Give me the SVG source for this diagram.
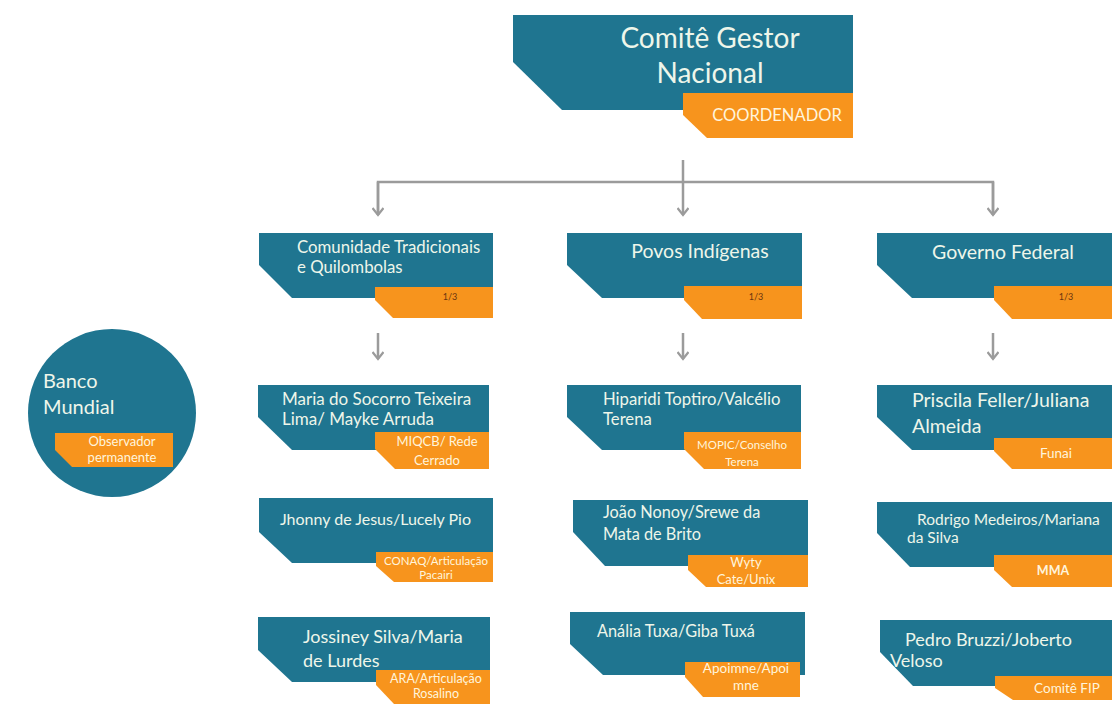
<svg xmlns="http://www.w3.org/2000/svg" width="1115" height="704" viewBox="0 0 1115 704">
<style>
.t{fill:#1f7590}
.o{fill:#f7941d}
.h{font-family:Lato,"Open Sans","Liberation Sans",sans-serif;fill:#eef6ea}
.s{font-family:Lato,"Open Sans","Liberation Sans",sans-serif;fill:#fff4dc;text-anchor:middle}
.f{font-family:Lato,"Open Sans","Liberation Sans",sans-serif;fill:#6b3510;font-size:9px}
.c{fill:none;stroke:#9b9b9b;stroke-width:2.5}
</style>
<defs>
<marker id="a" markerWidth="12" markerHeight="10" refX="6" refY="8" orientation="auto" markerUnits="userSpaceOnUse" viewBox="0 0 12 10">
<path d="M0.5,1 L6,8 L11.5,1" fill="none" stroke="#9b9b9b" stroke-width="2.2"/>
</marker>
</defs>
<rect width="1115" height="704" fill="#fff"/>
<g id="connectors">
<path class="c" d="M683,160 V215" marker-end="url(#a)"/>
<path class="c" d="M378,215 V182 H993 V215" />
<path class="c" d="M378,182 V215" marker-end="url(#a)"/>
<path class="c" d="M993,182 V215" marker-end="url(#a)"/>
<path class="c" d="M378,333 V359" marker-end="url(#a)"/>
<path class="c" d="M683,333 V359" marker-end="url(#a)"/>
<path class="c" d="M993,333 V359" marker-end="url(#a)"/>
</g>
<g id="comite">
<path class="t" d="M513,15 H853 V110 H562 L513,62 Z"/>
<path class="o" d="M683,93 H853 V138 H707 L683,115 Z"/>
<text class="h" x="710" y="48" font-size="28" text-anchor="middle">Comitê Gestor</text>
<text class="h" x="710" y="83" font-size="28" text-anchor="middle">Nacional</text>
<text class="s" x="777" y="121" font-size="16.5">COORDENADOR</text>
</g>
<g id="comunidade">
<path class="t" d="M259,233 H493 V298 H292 L259,265 Z"/>
<path class="o" d="M375,287 H493 V318 H393 L375,300 Z"/>
<text class="h" x="297" y="253" font-size="16.8">Comunidade Tradicionais</text>
<text class="h" x="297" y="273" font-size="16.8">e Quilombolas</text>
<text class="f" x="450" y="300" text-anchor="middle">1/3</text>
</g>
<g id="povos">
<path class="t" d="M567,233 H802 V298 H602 L567,265 Z"/>
<path class="o" d="M684,286 H802 V319 H702 L684,300 Z"/>
<text class="h" x="700" y="258" font-size="19.5" text-anchor="middle">Povos Indígenas</text>
<text class="f" x="756" y="300" text-anchor="middle">1/3</text>
</g>
<g id="governo">
<path class="t" d="M877,233 H1112 V298 H912 L877,265 Z"/>
<path class="o" d="M994,286 H1112 V319 H1012 L994,300 Z"/>
<text class="h" x="1003" y="259" font-size="19.5" text-anchor="middle">Governo Federal</text>
<text class="f" x="1066" y="300" text-anchor="middle">1/3</text>
</g>
<g id="banco">
<circle class="t" cx="112" cy="413" r="84"/>
<path class="o" d="M55,433 H173 V467 H72 L55,450 Z"/>
<text class="h" x="43" y="388" font-size="20">Banco</text>
<text class="h" x="43" y="414" font-size="20">Mundial</text>
<text class="s" x="122" y="446" font-size="13">Observador</text>
<text class="s" x="122" y="462" font-size="13">permanente</text>
</g>
<g id="maria">
<path class="t" d="M258,385 H489 V450 H292 L258,417 Z"/>
<path class="o" d="M375,432 H489 V469 H395 L375,449 Z"/>
<text class="h" x="282" y="405" font-size="17">Maria do Socorro Teixeira</text>
<text class="h" x="282" y="425" font-size="17">Lima/ Mayke Arruda</text>
<text class="s" x="437" y="446" font-size="13">MIQCB/ Rede</text>
<text class="s" x="437" y="465" font-size="13">Cerrado</text>
</g>
<g id="hiparidi">
<path class="t" d="M567,385 H801 V450 H602 L567,417 Z"/>
<path class="o" d="M684,432 H801 V469 H704 L684,449 Z"/>
<text class="h" x="603" y="405" font-size="16.7">Hiparidi Toptiro/Valcélio</text>
<text class="h" x="603" y="425" font-size="16.7">Terena</text>
<text class="s" x="742" y="449" font-size="11.5">MOPIC/Conselho</text>
<text class="s" x="742" y="466" font-size="11.5">Terena</text>
</g>
<g id="priscila">
<path class="t" d="M877,385 H1112 V450 H912 L877,417 Z"/>
<path class="o" d="M994,438 H1112 V469 H1012 L994,451 Z"/>
<text class="h" x="912" y="407" font-size="19.5">Priscila Feller/Juliana</text>
<text class="h" x="912" y="433" font-size="19.5">Almeida</text>
<text class="s" x="1056" y="458" font-size="13.5">Funai</text>
</g>
<g id="jhonny">
<path class="t" d="M259,498 H493 V563 H292 L259,532 Z"/>
<path class="o" d="M376,552 H493 V582 H394 L376,566 Z"/>
<text class="h" x="280" y="525" font-size="16">Jhonny de Jesus/Lucely Pio</text>
<text class="s" x="436" y="565" font-size="11.5">CONAQ/Articulação</text>
<text class="s" x="436" y="579" font-size="11.5">Pacairi</text>
</g>
<g id="joao">
<path class="t" d="M573,500 H808 V566 H605 L573,532 Z"/>
<path class="o" d="M688,555 H808 V587 H706 L688,570 Z"/>
<text class="h" x="603" y="518" font-size="16.3">João Nonoy/Srewe da</text>
<text class="h" x="603" y="540" font-size="16.3">Mata de Brito</text>
<text class="s" x="746" y="567" font-size="13">Wyty</text>
<text class="s" x="746" y="584" font-size="13">Cate/Unix</text>
</g>
<g id="rodrigo">
<path class="t" d="M877,502 H1112 V567 H910 L877,533 Z"/>
<path class="o" d="M994,555 H1112 V587 H1012 L994,570 Z"/>
<text class="h" x="917" y="525" font-size="15.5">Rodrigo Medeiros/Mariana</text>
<text class="h" x="907" y="543" font-size="15.5">da Silva</text>
<text class="s" x="1053" y="575" font-size="12.5" font-weight="bold">MMA</text>
</g>
<g id="jossiney">
<path class="t" d="M258,617 H490 V682 H292 L258,650 Z"/>
<path class="o" d="M376,670 H490 V704 H394 L376,685 Z"/>
<text class="h" x="303" y="643" font-size="18">Jossiney Silva/Maria</text>
<text class="h" x="303" y="667" font-size="18">de Lurdes</text>
<text class="s" x="436" y="683" font-size="12.5">ARA/Articulação</text>
<text class="s" x="436" y="698" font-size="12.5">Rosalino</text>
</g>
<g id="analia">
<path class="t" d="M570,612 H805 V675 H603 L570,644 Z"/>
<path class="o" d="M685,662 H800 V697 H703 L685,677 Z"/>
<text class="h" x="676" y="637" font-size="16.3" text-anchor="middle">Anália Tuxa/Giba Tuxá</text>
<text class="s" x="746" y="673" font-size="13.5">Apoimne/Apoi</text>
<text class="s" x="746" y="690" font-size="13.5">mne</text>
</g>
<g id="pedro">
<path class="t" d="M880,620 H1112 V686 H913 L880,652 Z"/>
<path class="o" d="M995,676 H1112 V700 H1013 L995,688 Z"/>
<text class="h" x="905" y="646" font-size="18">Pedro Bruzzi/Joberto</text>
<text class="h" x="890" y="667" font-size="18">Veloso</text>
<text class="s" x="1067" y="693" font-size="13.5">Comitê FIP</text>
</g>
</svg>
